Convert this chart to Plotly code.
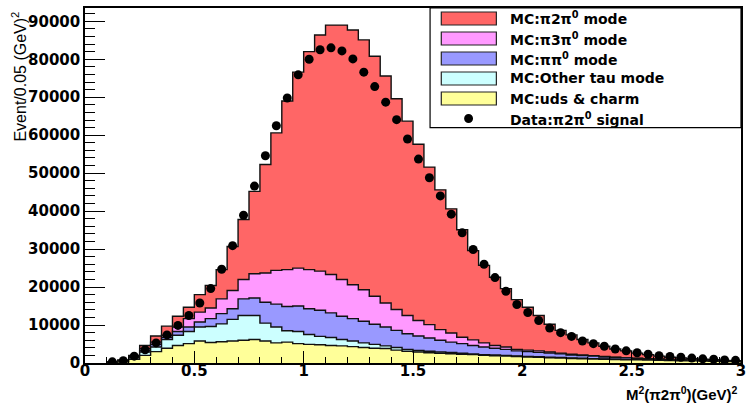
import numpy as np
import plotly.graph_objects as go

# ---------------- data ----------------
bin_width = 0.05
bin_lo = 0.10          # lower edge of first filled bin
n_bins = 58            # bins 0.10 ... 3.00

# individual MC components per bin (events / 0.05 GeV^2)
mc_uds_charm = [100, 300, 1000, 2000, 3000, 3900, 4600, 5100, 5800, 5400,
                5600, 5800, 6000, 6200, 5800, 5300, 5500, 5100, 4900, 4800,
                4600, 4500, 4300, 4100, 3900, 3800, 3400, 3100, 2900, 2700,
                2550, 2450, 2300, 2200, 2000, 1900, 1800, 1700, 1600, 1500,
                1400, 1300, 1200, 1120, 1050, 980, 920, 870, 820, 770,
                720, 660, 610, 560, 510, 460, 410, 370]
mc_other_tau = [50, 200, 400, 900, 1200, 2300, 2700, 3200, 3700, 4200,
                4700, 5700, 6500, 6300, 4700, 4200, 3000, 3200, 2600, 2200,
                2100, 1700, 1500, 1200, 1000, 700, 700, 500, 400, 400,
                350, 300, 250, 200, 200, 200, 200, 150, 150, 150,
                150, 150, 150, 130, 100, 70, 80, 80, 80, 80,
                80, 70, 60, 40, 40, 40, 30, 30]
mc_pipi0 = [50, 100, 100, 400, 700, 600, 1000, 1200, 1300, 2100,
            2700, 2800, 4400, 4600, 5500, 6000, 6400, 6700, 6800, 6900,
            6500, 6100, 5900, 5700, 5300, 5000, 4500, 4100, 3800, 3500,
            3100, 2750, 2550, 2200, 2000, 1800, 1600, 1350, 1250, 1150,
            1050, 950, 750, 700, 650, 550, 450, 400, 300, 250,
            200, 170, 130, 120, 80, 70, 40, 30]
mc_pi3pi0 = [50, 100, 200, 500, 600, 500, 1200, 2200, 2600, 2800,
             3900, 4800, 5100, 6400, 7700, 8900, 9700, 10000, 10300, 10300,
             10100, 9700, 8900, 8300, 7400, 6300, 5500, 4800, 4100, 3500,
             2800, 2400, 1700, 1500, 1100, 700, 600, 400, 400, 400,
             300, 200, 200, 150, 100, 100, 50, 50, 50, 50,
             50, 50, 50, 30, 20, 30, 20, 20]
mc_pi2pi0 = [50, 100, 300, 800, 1600, 2400, 2800, 3000, 4600, 5900,
             7700, 11600, 15800, 21700, 28600, 36200, 44400, 51600, 57400, 62200,
             65700, 67000, 67100, 65800, 63200, 59800, 55500, 51200, 46400, 41500,
             36800, 32700, 28300, 23500, 20400, 18000, 15400, 13100, 11300, 9300,
             7300, 6000, 5100, 4100, 3400, 2700, 2200, 1800, 1350, 1050,
             750, 550, 450, 350, 350, 250, 200, 150]

# data: pi 2pi0 signal, at bin centres
data_signal = [300, 600, 1800, 3500, 5300, 7400, 9900, 12500, 15800, 19600,
               24700, 30900, 38900, 46600, 54600, 62500, 69800, 75900, 80000, 82500,
               83000, 82200, 80100, 76600, 72800, 68700, 64100, 59000, 53700, 48800,
               44000, 39200, 34300, 29900, 26000, 22500, 18900, 15400, 13300, 11200,
               9200, 8000, 7000, 5800, 5100, 4400, 3700, 3200, 2700, 2300,
               1900, 1700, 1500, 1300, 1100, 1000, 800, 700]

legend_labels = ["MC:π2π<sup>0</sup> mode", "MC:π3π<sup>0</sup> mode",
                 "MC:ππ<sup>0</sup> mode", "MC:Other tau mode",
                 "MC:uds &amp; charm", "Data:π2π<sup>0</sup> signal"]
colors = ["#FF6666", "#FF99FF", "#9999FF", "#CCFFFF", "#FFFF99"]

x_ticks = [0, 0.5, 1, 1.5, 2, 2.5, 3]
x_ticktext = ["0", "0.5", "1", "1.5", "2", "2.5", "3"]
y_ticks = [0, 10000, 20000, 30000, 40000, 50000, 60000, 70000, 80000, 90000]
y_ticktext = ["0", "10000", "20000", "30000", "40000", "50000",
              "60000", "70000", "80000", "90000"]

# ---------------- build figure ----------------
edges = bin_lo + bin_width * np.arange(n_bins + 1)
centres = edges[:-1] + bin_width / 2

comps_bottom_up = [mc_uds_charm, mc_other_tau, mc_pipi0, mc_pi3pi0, mc_pi2pi0]
cum = np.cumsum(np.array(comps_bottom_up, dtype=float), axis=0)
# stacks drawn top-first (total), each as a filled step histogram from zero
stacks = [cum[4], cum[3], cum[2], cum[1], cum[0]]

fig = go.Figure()
for vals, col in zip(stacks, colors):
    xs = np.concatenate([[edges[0]], edges, [edges[-1]]])
    ys = np.concatenate([[0], vals, [vals[-1]], [0]])
    fig.add_trace(go.Scatter(
        x=xs, y=ys, mode="lines", line=dict(shape="hv", color="#111111", width=1.4),
        fill="tozeroy", fillcolor=col, showlegend=False, hoverinfo="skip"))

fig.add_trace(go.Scatter(
    x=centres, y=data_signal, mode="markers",
    marker=dict(color="black", size=9), showlegend=False, hoverinfo="skip"))

tickfont = dict(family="DejaVu Sans", size=15, color="black", weight="bold")

fig.update_layout(
    width=749, height=407,
    margin=dict(l=85, r=3, t=8, b=44),
    paper_bgcolor="white", plot_bgcolor="white",
    showlegend=False,
    xaxis=dict(range=[0, 3], tickvals=x_ticks, ticktext=x_ticktext,
               ticks="inside", ticklen=12, tickwidth=1.2, tickcolor="black",
               minor=dict(dtick=0.1, ticks="inside", ticklen=6, tickwidth=1, tickcolor="black"),
               showline=True, linecolor="black", linewidth=1.5, mirror=True,
               showgrid=False, zeroline=False, tickfont=tickfont,
               ticklabeloverflow="allow", ticklabelstandoff=-7),
    yaxis=dict(range=[0, 93500], tickvals=y_ticks, ticktext=y_ticktext,
               ticks="inside", ticklen=20, tickwidth=1.2, tickcolor="black",
               minor=dict(dtick=2000, ticks="inside", ticklen=10, tickwidth=1, tickcolor="black"),
               showline=True, linecolor="black", linewidth=1.5, mirror=True,
               showgrid=False, zeroline=False, tickfont=tickfont),
)

# axis titles
fig.add_annotation(xref="paper", yref="paper", x=-0.1, y=0.808,
                   text="Event/0.05 (GeV)<sup>2</sup>", textangle=-90,
                   showarrow=False, xanchor="center", yanchor="middle",
                   font=dict(family="Liberation Sans", size=16, color="black"))
fig.add_annotation(xref="paper", yref="paper", x=0.9985, y=-0.085,
                   text="M<sup>2</sup>(π2π<sup>0</sup>)(GeV)<sup>2</sup>",
                   showarrow=False, xanchor="right", yanchor="middle",
                   font=dict(family="Liberation Sans", size=15, color="black", weight="bold"))

# legend box (manual, ROOT style)
PW, PH, L, T = 661.0, 355.0, 85.0, 8.0
def px(xp):
    return (xp - L) / PW
def py(yp):
    return 1 - (yp - T) / PH

fig.add_shape(type="rect", xref="paper", yref="paper",
              x0=px(432.7), x1=1.0, y0=py(127.7), y1=1.0,
              line=dict(color="black", width=1.2), fillcolor="white", layer="above")
row_y = [18.5 + 20 * i for i in range(6)]
for i, lab in enumerate(legend_labels):
    yc = row_y[i]
    if i < 5:
        fig.add_shape(type="rect", xref="paper", yref="paper",
                      x0=px(444), x1=px(499.5), y0=py(yc + 6.5), y1=py(yc - 6.5),
                      line=dict(color="#222222", width=1.2), fillcolor=colors[i], layer="above")
    else:
        fig.add_shape(type="circle", xref="paper", yref="paper",
                      x0=px(471.5 - 4.5), x1=px(471.5 + 4.5), y0=py(yc + 4.5), y1=py(yc - 4.5),
                      line=dict(color="black", width=0), fillcolor="black", layer="above")
    fig.add_annotation(xref="paper", yref="paper", x=px(511.5), y=py(yc),
                       text=lab, showarrow=False, xanchor="left", yanchor="middle",
                       font=dict(family="DejaVu Sans", size=14, color="black", weight="bold"))

fig.write_html("out.html")
